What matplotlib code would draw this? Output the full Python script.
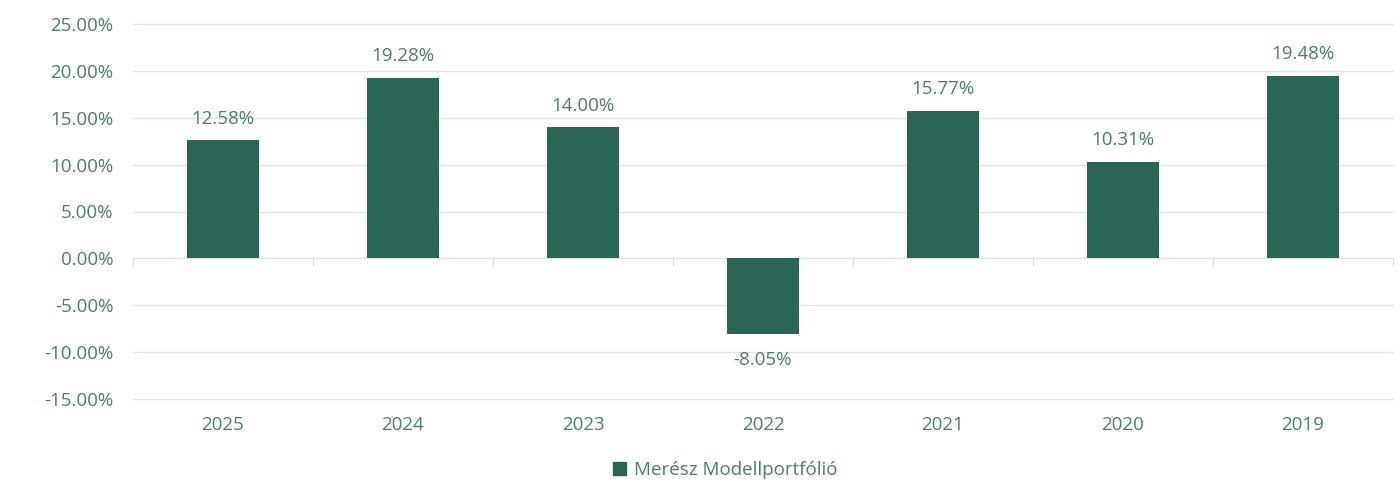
import matplotlib
matplotlib.use("Agg")
import matplotlib.pyplot as plt
from matplotlib.ticker import FuncFormatter, FixedLocator
from matplotlib.patches import Patch

years = ["2025", "2024", "2023", "2022", "2021", "2020", "2019"]
returns = [12.58, 19.28, 14.00, -8.05, 15.77, 10.31, 19.48]
series_name = "Merész Modellportfólió"

bar_color = "#2a6655"
text_color = "#4d7d6c"
grid_color = "#dce6e2"

plt.rcParams["font.family"] = ["Open Sans", "DejaVu Sans"]

fig = plt.figure(figsize=(13.99, 4.82), dpi=100)
ax = fig.add_axes([133 / 1399, 83 / 482, 1260 / 1399, 375 / 482])

x = list(range(len(years)))
bars = ax.bar(x, returns, width=0.4, color=bar_color, zorder=3)

ax.set_xlim(-0.5, len(years) - 0.5)
ax.set_ylim(-15, 25)
ax.set_yticks(range(-15, 26, 5))
ax.yaxis.set_major_formatter(FuncFormatter(lambda v, _: f"{v:.2f}%"))
ax.grid(axis="y", color=grid_color, linewidth=1, zorder=0)
ax.set_axisbelow(True)
for gl in ax.get_ygridlines():
    gl.set_clip_on(False)

for s in ax.spines.values():
    s.set_visible(False)

ax.set_xticks(x)
ax.set_xticklabels(years)
ax.tick_params(axis="both", length=0, labelsize=13.5, labelcolor=text_color)
ax.tick_params(axis="x", pad=12)
ax.tick_params(axis="y", pad=14)

# zero line with small tick marks at category boundaries
zero_ax = ax.secondary_xaxis(15 / 40)
zero_ax.spines["bottom"].set_color("#d3ddd9")
zero_ax.xaxis.set_major_locator(FixedLocator([i - 0.5 for i in range(len(years) + 1)]))
zero_ax.tick_params(axis="x", length=6, color="#d3ddd9", labelbottom=False)

for b, v in zip(bars, returns):
    ax.annotate(f"{v:.2f}%", (b.get_x() + b.get_width() / 2, v),
                xytext=(0, 9 if v >= 0 else -12), textcoords="offset points",
                ha="center", va="bottom" if v >= 0 else "top",
                fontsize=13.5, color=text_color)

fig.legend(handles=[Patch(color=bar_color, label=series_name)],
           loc="center", bbox_to_anchor=(725 / 1399, 12 / 482),
           frameon=False, fontsize=13.5, labelcolor=text_color,
           handlelength=0.7, handleheight=0.7, handletextpad=0.4)

fig.savefig("out.png", dpi=100)
